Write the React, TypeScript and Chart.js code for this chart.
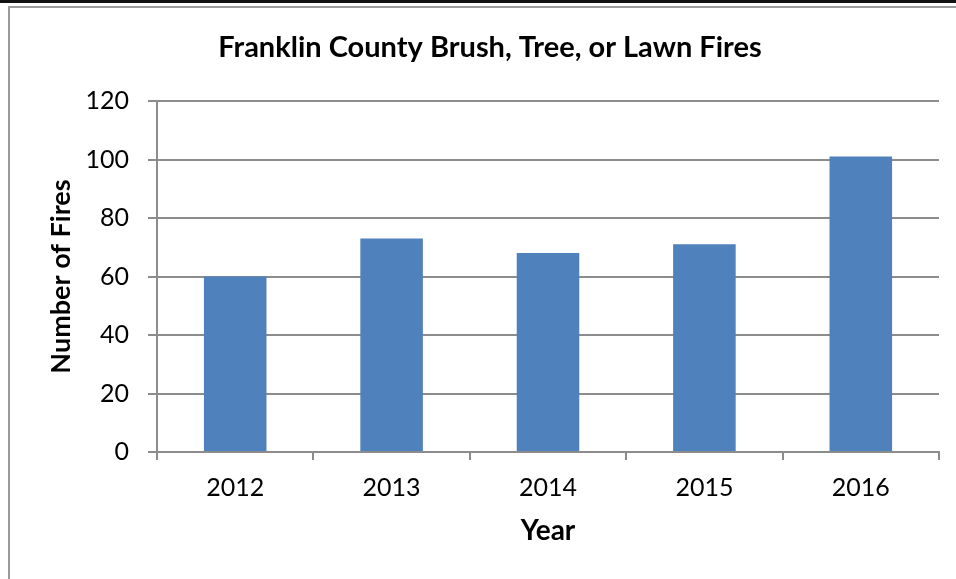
import React, { useEffect, useRef } from "react";
import { Chart, registerables } from "chart.js";

Chart.register(...registerables);

const TITLE = "Franklin County Brush, Tree, or Lawn Fires";
const X_TITLE = "Year";
const Y_TITLE = "Number of Fires";
const YEARS = ["2012", "2013", "2014", "2015", "2016"];
const FIRES = [60, 73, 68, 71, 101];
const Y_MIN = 0;
const Y_MAX = 120;
const Y_STEP = 20;

const FONT = "Lato, 'Open Sans', sans-serif";
const GRID = "#8c8c8c";

const titlePlugin = {
  id: "fixedTitle",
  afterDraw(chart: any) {
    const ctx = chart.ctx;
    ctx.save();
    ctx.font = `bold 29px ${FONT}`;
    ctx.fillStyle = "#000";
    ctx.textAlign = "center";
    ctx.textBaseline = "middle";
    ctx.fillText(TITLE, 490, 48);
    ctx.restore();
  },
};

export default function App() {
  const ref = useRef<HTMLCanvasElement | null>(null);

  useEffect(() => {
    if (!ref.current) return;
    const chart = new Chart(ref.current, {
      type: "bar",
      data: {
        labels: YEARS,
        datasets: [
          {
            label: Y_TITLE,
            data: FIRES,
            backgroundColor: "#4F81BD",
            borderWidth: 0,
            barPercentage: 0.4,
            categoryPercentage: 1,
          },
        ],
      },
      plugins: [titlePlugin],
      options: {
        animation: false,
        responsive: false,
        devicePixelRatio: 1,
        layout: { padding: { left: 0, top: 101, right: 17, bottom: 0 } },
        plugins: {
          legend: { display: false },
          tooltip: { enabled: false },
          title: { display: false },
        },
        scales: {
          x: {
            offset: true,
            grid: {
              display: true,
              drawOnChartArea: false,
              drawTicks: true,
              tickLength: 8,
              color: GRID,
              lineWidth: 2,
              offset: true,
            },
            border: { display: true, color: GRID, width: 2 },
            ticks: {
              color: "#000",
              font: { family: FONT, size: 25, lineHeight: 1.2 },
              padding: 13,
              maxRotation: 0,
            },
            title: {
              display: true,
              text: X_TITLE,
              color: "#000",
              font: { family: FONT, size: 28, weight: "bold", lineHeight: 1.2 },
              padding: { top: 0, bottom: 31 },
            },
            afterFit: (scale: any) => {
              scale.height = 127;
            },
          },
          y: {
            min: Y_MIN,
            max: Y_MAX,
            grid: {
              color: GRID,
              lineWidth: 2,
              drawTicks: true,
              tickLength: 9,
            },
            border: { display: true, color: GRID, width: 2 },
            ticks: {
              stepSize: Y_STEP,
              color: "#000",
              font: { family: FONT, size: 25, lineHeight: 1.2 },
              padding: 19,
            },
            title: {
              display: true,
              text: Y_TITLE,
              color: "#000",
              font: { family: FONT, size: 27, weight: "bold", lineHeight: 1.2 },
              padding: { top: 45, bottom: 0 },
            },
            afterFit: (scale: any) => {
              scale.width = 157;
            },
          },
        },
      },
    });
    return () => chart.destroy();
  }, []);

  return (
    <div
      style={{
        position: "fixed",
        left: 0,
        top: 0,
        width: 956,
        height: 579,
        overflow: "hidden",
        background: "#fff",
      }}
    >
      <div
        style={{
          position: "absolute",
          left: 0,
          top: 0,
          width: 956,
          height: 3,
          background: "#111",
        }}
      />
      <div
        style={{
          position: "absolute",
          left: 8,
          top: 6,
          width: 1100,
          height: 700,
          border: "2px solid #9a9a9a",
        }}
      />
      <canvas
        ref={ref}
        width={956}
        height={579}
        style={{ position: "absolute", left: 0, top: 0, width: 956, height: 579 }}
      />
    </div>
  );
}
